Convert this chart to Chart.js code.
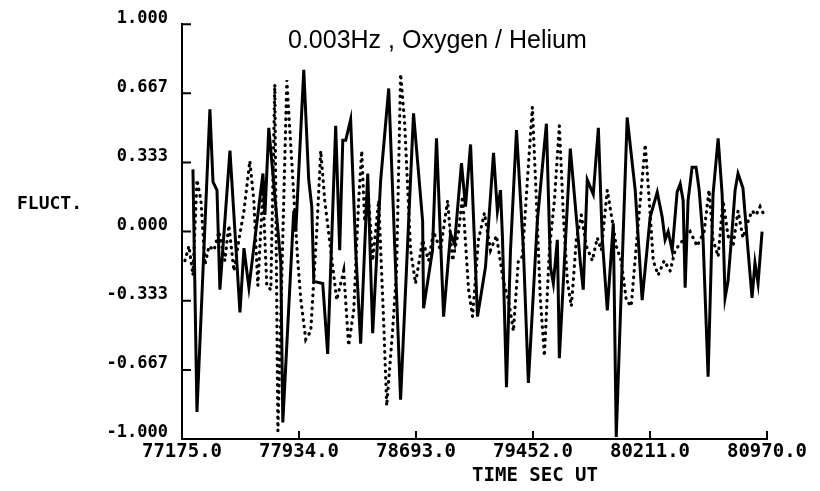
<!DOCTYPE html>
<html>
<head>
<meta charset="utf-8">
<script src="https://cdn.jsdelivr.net/npm/chart.js@4.4.1/dist/chart.umd.min.js"></script>
<style>
    html, body { margin: 0; padding: 0; background: #fff; }
</style>
</head>
<body>
<canvas id="fluctChart" width="820" height="491"></canvas>
<script>
// solid trace (oxygen)
const oxygenTime = [77246, 77272, 77356, 77376, 77402, 77421, 77486, 77551, 77577, 77609,
    77700, 77713, 77738, 77816, 77829, 77900, 77913, 77965, 77997, 78017,
    78030, 78088, 78120, 78172, 78198, 78218, 78237, 78269, 78302, 78334,
    78380, 78412, 78464, 78516, 78593, 78677, 78736, 78742, 78800, 78826,
    78872, 78917, 78943, 78988, 79014, 79047, 79092, 79144, 79196, 79221,
    79241, 79254, 79280, 79306, 79345, 79390, 79422, 79480, 79539, 79565,
    79584, 79610, 79623, 79694, 79759, 79778, 79804, 79843, 79876, 79901,
    79934, 79973, 79992, 80063, 80115, 80160, 80212, 80258, 80290, 80309,
    80329, 80355, 80387, 80407, 80426, 80439, 80458, 80484, 80510, 80530,
    80555, 80588, 80620, 80653, 80679, 80698, 80717, 80743, 80763, 80782,
    80814, 80847, 80873, 80892, 80912, 80938];
const oxygenFluct = [0.30, -0.87, 0.59, 0.24, 0.20, -0.28, 0.39, -0.39, -0.08, -0.27,
    0.28, 0.08, 0.50, -0.15, -0.92, 0.10, 0.00, 0.78, 0.25, 0.12,
    -0.24, -0.25, -0.59, 0.51, -0.09, 0.44, 0.44, 0.54, -0.09, -0.54,
    0.28, -0.49, 0.25, 0.69, -0.81, 0.57, 0.05, -0.37, -0.09, 0.45,
    -0.41, -0.01, -0.06, 0.33, 0.12, 0.42, -0.41, -0.17, 0.38, 0.10,
    0.20, -0.03, -0.75, -0.09, 0.49, -0.09, -0.73, 0.05, 0.52, -0.17,
    -0.25, -0.04, -0.61, 0.40, -0.15, -0.28, 0.25, 0.18, 0.50, -0.03,
    -0.38, 0.04, -0.99, 0.55, 0.20, -0.33, 0.07, 0.19, 0.07, -0.04,
    0.00, -0.09, 0.19, 0.23, 0.15, -0.27, 0.15, 0.31, 0.31, 0.20,
    -0.03, -0.70, 0.18, 0.45, 0.18, -0.32, -0.24, 0.00, 0.20, 0.28,
    0.21, -0.09, -0.32, -0.15, -0.25, 0.00];

// dotted trace (helium)
const heliumTime = [77194, 77220, 77246, 77272, 77298, 77324, 77350, 77382, 77415, 77453,
    77479, 77512, 77544, 77577, 77615, 77641, 77667, 77700, 77725, 77751,
    77777, 77797, 77855, 77894, 77926, 77946, 77978, 78010, 78049, 78075,
    78101, 78140, 78179, 78224, 78256, 78289, 78321, 78341, 78360, 78380,
    78412, 78451, 78483, 78503, 78541, 78567, 78593, 78619, 78658, 78690,
    78736, 78775, 78807, 78852, 78898, 78930, 78969, 78995, 79034, 79060,
    79098, 79137, 79176, 79215, 79260, 79293, 79325, 79357, 79383, 79416,
    79448, 79474, 79500, 79526, 79558, 79591, 79623, 79649, 79675, 79701,
    79733, 79765, 79798, 79837, 79869, 79895, 79934, 79960, 79992, 80024,
    80057, 80089, 80122, 80154, 80180, 80206, 80232, 80264, 80303, 80342,
    80374, 80426, 80471, 80517, 80562, 80594, 80620, 80653, 80685, 80717,
    80750, 80782, 80814, 80847, 80873, 80899, 80925, 80951, 80968];
const heliumFluct = [-0.14, -0.07, -0.21, 0.25, 0.15, -0.16, -0.07, -0.09, 0.00, -0.14,
    0.03, -0.19, -0.04, 0.10, 0.34, 0.15, -0.26, 0.20, -0.26, -0.28,
    0.71, -0.96, 0.73, 0.25, -0.14, -0.33, -0.52, -0.48, 0.00, 0.39,
    0.15, -0.09, -0.33, -0.19, -0.55, -0.38, 0.15, 0.39, 0.05, 0.22,
    -0.14, 0.15, -0.43, -0.84, -0.48, -0.19, 0.76, 0.53, -0.09, -0.25,
    -0.04, -0.14, 0.00, -0.09, 0.15, -0.14, 0.00, 0.17, -0.28, -0.41,
    -0.04, 0.09, -0.09, -0.02, -0.24, -0.33, -0.48, -0.14, -0.12, 0.25,
    0.60, 0.15, -0.33, -0.60, -0.09, 0.15, 0.51, 0.08, -0.24, -0.36,
    -0.04, 0.08, -0.07, -0.14, -0.03, -0.09, 0.20, 0.08, -0.07, -0.14,
    -0.33, -0.36, -0.07, 0.20, 0.42, 0.15, -0.14, -0.21, -0.14, -0.19,
    -0.09, -0.04, 0.00, -0.07, 0.00, 0.20, -0.04, -0.12, 0.15, -0.02,
    -0.07, 0.10, -0.03, 0.05, 0.10, 0.08, 0.12, 0.08, 0.09];

const xTicks = [77175, 77934, 78693, 79452, 80211, 80970];
const xTickLabels = ['77175.0', '77934.0', '78693.0', '79452.0', '80211.0', '80970.0'];
const yTicks = [-1, -0.667, -0.333, 0, 0.333, 0.667, 1];
const yTickLabels = ['-1.000', '-0.667', '-0.333', '0.000', '0.333', '0.667', '1.000'];

const chartTitle = '0.003Hz , Oxygen / Helium';
const yTitle = 'FLUCT.';
const xTitle = 'TIME SEC UT';

const monoBold = '"DejaVu Sans Mono", "Liberation Mono", monospace';

function toPoints(xs, ys) {
    return xs.map((t, i) => ({ x: t, y: ys[i] }));
}

// inward tick marks and the loose texts of the old plotter sheet
const plotterMarks = {
    id: 'plotterMarks',
    afterDraw(chart) {
        const ctx = chart.ctx;
        const area = chart.chartArea;
        const xs = chart.scales.x, ys = chart.scales.y;
        ctx.save();
        ctx.strokeStyle = '#000';
        ctx.lineWidth = 2;
        ctx.beginPath();
        xs.ticks.forEach((t, i) => {
            const px = xs.getPixelForTick(i);
            ctx.moveTo(px, area.bottom);
            ctx.lineTo(px, area.bottom - 8);
        });
        ys.ticks.forEach((t, i) => {
            const py = ys.getPixelForTick(i);
            ctx.moveTo(area.left, py);
            ctx.lineTo(area.left + 9, py);
        });
        ctx.stroke();

        ctx.fillStyle = '#000';
        ctx.textBaseline = 'middle';
        ctx.textAlign = 'left';
        ctx.font = '25px "Liberation Sans", Arial, sans-serif';
        ctx.fillText(chartTitle, area.left + 106, 41);
        ctx.font = 'bold 18px ' + monoBold;
        ctx.fillText(yTitle, 17, 204);
        ctx.font = 'bold 19px ' + monoBold;
        ctx.textAlign = 'center';
        ctx.fillText(xTitle, 535, 476);
        ctx.restore();
    }
};

new Chart(document.getElementById('fluctChart'), {
    type: 'line',
    data: {
        datasets: [
            {
                label: 'Oxygen',
                data: toPoints(oxygenTime, oxygenFluct),
                borderColor: '#000',
                borderWidth: 3,
                pointRadius: 0,
                tension: 0,
                fill: false
            },
            {
                label: 'Helium',
                data: toPoints(heliumTime, heliumFluct),
                borderColor: '#000',
                borderWidth: 3.2,
                borderDash: [0.5, 6],
                borderCapStyle: 'round',
                pointRadius: 0,
                tension: 0,
                fill: false
            }
        ]
    },
    options: {
        responsive: false,
        animation: false,
        layout: { padding: { top: 21, right: 53, bottom: 0, left: 0 } },
        plugins: {
            legend: { display: false },
            tooltip: { enabled: false },
            title: { display: false }
        },
        scales: {
            x: {
                type: 'linear',
                min: 77175,
                max: 80970,
                afterBuildTicks: (scale) => { scale.ticks = xTicks.map(v => ({ value: v })); },
                afterFit: (scale) => { scale.height = 52; },
                grid: { display: false, drawTicks: false, tickLength: 0 },
                border: { display: true, color: '#000', width: 2 },
                ticks: {
                    color: '#000',
                    padding: 2,
                    maxRotation: 0,
                    autoSkip: false,
                    font: { family: monoBold, size: 19, weight: 'bold' },
                    callback: (v) => xTickLabels[xTicks.indexOf(v)]
                }
            },
            y: {
                min: -1,
                max: 1,
                afterBuildTicks: (scale) => { scale.ticks = yTicks.map(v => ({ value: v })); },
                afterFit: (scale) => { scale.width = 182; },
                grid: { display: false, drawTicks: false, tickLength: 0 },
                border: { display: true, color: '#000', width: 2 },
                ticks: {
                    color: '#000',
                    padding: 14,
                    labelOffset: -6,
                    autoSkip: false,
                    font: { family: monoBold, size: 17, weight: 'bold' },
                    callback: (v) => yTickLabels[yTicks.indexOf(v)]
                }
            }
        }
    },
    plugins: [plotterMarks]
});
</script>
</body>
</html>
